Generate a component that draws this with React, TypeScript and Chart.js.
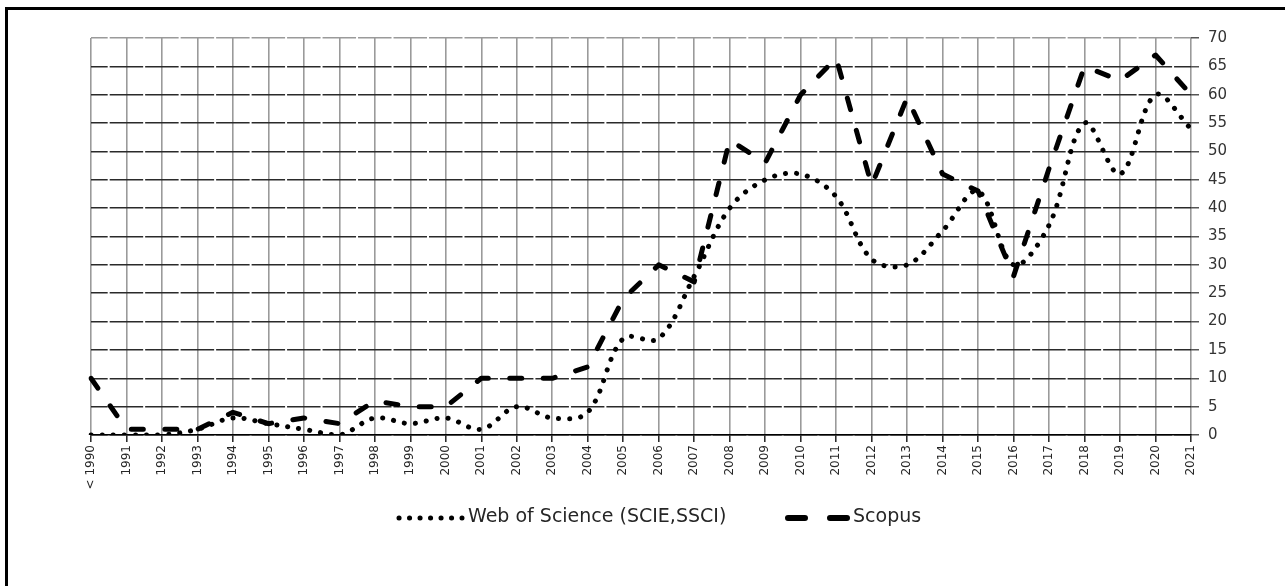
import React, { useEffect, useRef } from "react";
import { Chart, registerables } from "chart.js";

Chart.register(...registerables);

// ---- data ----
const years = [
  "< 1990", "1991", "1992", "1993", "1994", "1995", "1996", "1997", "1998", "1999",
  "2000", "2001", "2002", "2003", "2004", "2005", "2006", "2007", "2008", "2009",
  "2010", "2011", "2012", "2013", "2014", "2015", "2016", "2017", "2018", "2019",
  "2020", "2021",
];
const wosValues = [
  0, 0, 0, 1, 3, 2, 1, 0, 3, 2,
  3, 1, 5, 3, 4, 17, 17, 28, 40, 45,
  46, 42, 31, 30, 36, 43, 30, 37, 55, 46,
  60, 54,
];
const scopusValues = [
  10, 1, 1, 1, 4, 2, 3, 2, 6, 5,
  5, 10, 10, 10, 12, 24, 30, 27, 52, 48,
  60, 66.5, 44, 59.5, 46, 43, 28, 47, 65, 62.5,
  67, 60,
];
const seriesLabels = ["Web of Science (SCIE,SSCI)", "Scopus"];
const yMin = 0;
const yMax = 70;
const yStep = 5;

const W = 1285;
const H = 586;
const FONT = "'DejaVu Sans', Verdana, sans-serif";

const legendPlugin = {
  id: "refLegend",
  afterDraw(chart: any) {
    const ctx = chart.ctx as CanvasRenderingContext2D;
    const ds = chart.data.datasets;
    const y = 518;
    const items = [
      { label: ds[0].label, x1: 399, x2: 462, tx: 468, dash: [0.1, 10.4], lw: 5 },
      { label: ds[1].label, x1: 788, x2: 847, tx: 853, dash: [17, 25], lw: 6 },
    ];
    ctx.save();
    for (const it of items) {
      ctx.beginPath();
      ctx.setLineDash(it.dash);
      ctx.lineCap = "round";
      ctx.lineWidth = it.lw;
      ctx.strokeStyle = "#000";
      ctx.moveTo(it.x1, y);
      ctx.lineTo(it.x2, y);
      ctx.stroke();
      ctx.setLineDash([]);
      ctx.fillStyle = "#262626";
      ctx.font = `19px ${FONT}`;
      ctx.textBaseline = "middle";
      ctx.textAlign = "left";
      ctx.fillText(it.label, it.tx, y - 1);
    }
    ctx.restore();
  },
};

export default function App() {
  const ref = useRef<HTMLCanvasElement | null>(null);

  useEffect(() => {
    if (!ref.current) return;
    const chart = new Chart(ref.current, {
      type: "line",
      data: {
        labels: years,
        datasets: [
          {
            label: seriesLabels[0],
            data: wosValues,
            borderColor: "#000",
            borderWidth: 5,
            borderDash: [0.1, 11],
            borderCapStyle: "round",
            borderJoinStyle: "round",
            tension: 0.35,
            pointRadius: 0,
            pointHoverRadius: 0,
            fill: false,
          },
          {
            label: seriesLabels[1],
            data: scopusValues,
            borderColor: "#000",
            borderWidth: 5,
            borderDash: [12, 21.5],
            borderCapStyle: "round",
            borderJoinStyle: "round",
            tension: 0,
            pointRadius: 0,
            pointHoverRadius: 0,
            fill: false,
          },
        ],
      },
      options: {
        animation: false,
        responsive: false,
        devicePixelRatio: 1,
        events: [],
        layout: { padding: { left: 91, top: 38, right: 0, bottom: 91 } },
        plugins: {
          legend: { display: false },
          tooltip: { enabled: false },
        },
        scales: {
          x: {
            type: "category",
            offset: false,
            afterFit: (scale: any) => {
              scale.height = 60;
            },
            grid: {
              offset: false,
              color: "#9a9a9a",
              lineWidth: 1.6,
              tickLength: 7,
              tickColor: "#222",
              tickWidth: 1.5,
            },
            border: { display: true, color: "#000", width: 1.5 },
            ticks: {
              autoSkip: false,
              minRotation: 90,
              maxRotation: 90,
              padding: 3,
              color: "#262626",
              font: { family: FONT, size: 12 },
            },
          },
          y: {
            position: "right",
            min: yMin,
            max: yMax,
            afterFit: (scale: any) => {
              scale.width = 94;
            },
            grid: {
              color: (c: any) => (c.tick && c.tick.value === yMax ? "#9a9a9a" : "#2a2a2a"),
              lineWidth: 1.5,
              tickLength: 8,
              tickColor: "#555",
              tickWidth: 1.5,
            },
            border: { display: false, dash: [33.48, 2], dashOffset: 16.8 },
            ticks: {
              stepSize: yStep,
              padding: 9,
              color: "#333",
              font: { family: FONT, size: 15 },
            },
          },
        },
      },
      plugins: [legendPlugin],
    } as any);
    return () => chart.destroy();
  }, []);

  return (
    <div
      style={{
        position: "fixed",
        left: 0,
        top: 0,
        width: W,
        height: H,
        overflow: "hidden",
        background: "#fff",
      }}
    >
      <canvas ref={ref} width={W} height={H} style={{ display: "block", width: W, height: H }} />
      <div
        style={{
          position: "absolute",
          left: 5,
          top: 7,
          width: W,
          height: H,
          borderLeft: "3px solid #000",
          borderTop: "3px solid #000",
          pointerEvents: "none",
        }}
      />
    </div>
  );
}
